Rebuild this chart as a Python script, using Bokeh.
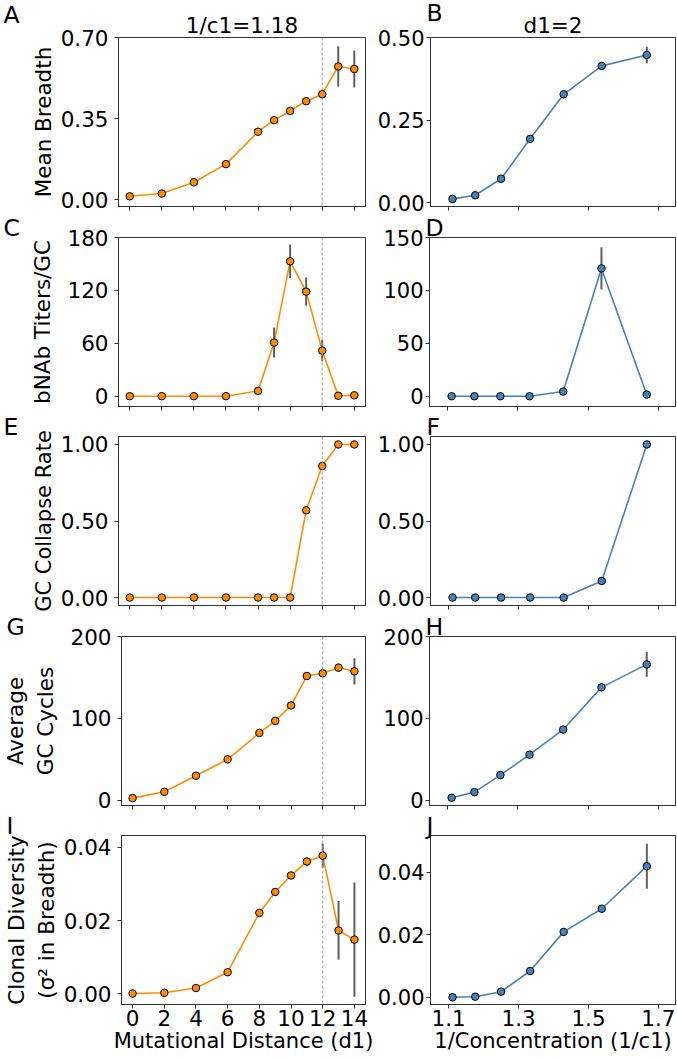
import numpy as np
from bokeh.plotting import figure
from bokeh.models import (FixedTicker, NumeralTickFormatter, Span, Title,
                          ColumnDataSource, Range1d)
from bokeh.layouts import column, row
from bokeh.embed import file_html
from bokeh.resources import INLINE

# ---------------- data ----------------
d1 = [0, 2, 4, 6, 8, 9, 10, 11, 12, 13, 14]
inv_c1 = [1.111, 1.176, 1.25, 1.333, 1.429, 1.538, 1.667]

breadth_d = [0.014, 0.026, 0.075, 0.153, 0.293, 0.343, 0.383, 0.425, 0.455, 0.575, 0.564]
breadth_d_err = [0.002, 0.003, 0.004, 0.005, 0.006, 0.006, 0.007, 0.008, 0.010, 0.087, 0.080]
breadth_c = [0.011, 0.022, 0.072, 0.193, 0.328, 0.414, 0.447]
breadth_c_err = [0.002, 0.003, 0.005, 0.007, 0.008, 0.009, 0.025]

titers_d = [0, 0, 0, 0, 6.0, 60.8, 153.0, 118.6, 51.7, 0.5, 1.0]
titers_d_err = [0, 0, 0, 0, 2, 17, 19, 16, 12, 0.5, 1]
titers_c = [0, 0, 0, 0, 4.4, 120.8, 1.6]
titers_c_err = [0, 0, 0, 0, 1.5, 20, 1.5]

collapse_d = [0, 0, 0, 0, 0, 0, 0, 0.570, 0.859, 1.0, 1.0]
collapse_d_err = [0, 0, 0, 0, 0, 0, 0, 0, 0, 0, 0]
collapse_c = [0, 0, 0, 0, 0, 0.108, 1.0]
collapse_c_err = [0, 0, 0, 0, 0, 0, 0]

cycles_d = [2.9, 10.6, 30.2, 50.2, 82.4, 97.1, 115.9, 151.8, 155.1, 162.0, 157.6]
cycles_d_err = [0.5, 1, 1.5, 2, 2.5, 3, 3.5, 4, 4, 5, 16]
cycles_c = [3.3, 10.2, 31.0, 55.9, 86.5, 138.0, 166.0]
cycles_c_err = [0.5, 1, 1.5, 2, 3, 4, 15]

diversity_d = [0.0001, 0.0003, 0.0016, 0.0059, 0.0221, 0.0278, 0.0323, 0.0361, 0.0377, 0.0173, 0.0148]
diversity_d_err = [0.0001, 0.0002, 0.0003, 0.0005, 0.0008, 0.0009, 0.001, 0.0012, 0.0033, 0.008, 0.0156]
diversity_c = [0.0, 0.0002, 0.0018, 0.0084, 0.0209, 0.0283, 0.0419]
diversity_c_err = [0.0001, 0.0002, 0.0004, 0.0008, 0.001, 0.0012, 0.0072]

d1_ticks = [0, 2, 4, 6, 8, 10, 12, 14]
c1_ticks = [1.1, 1.3, 1.5, 1.7]
breadth_d_ticks = [0, 0.35, 0.70]
breadth_c_ticks = [0, 0.25, 0.50]
titers_d_ticks = [0, 60, 120, 180]
titers_c_ticks = [0, 50, 100, 150]
collapse_ticks = [0, 0.5, 1.0]
cycles_ticks = [0, 100, 200]
diversity_ticks = [0, 0.02, 0.04]

ylabels = ["Mean Breadth", "bNAb Titers/GC", "GC Collapse Rate",
           "Average\nGC Cycles", "Clonal Diversity\n(\u03c3\u00b2 in Breadth)"]
letters_left = ["A", "C", "E", "G", "I"]
letters_right = ["B", "D", "F", "H", "J"]
col_titles = ["1/c1=1.18", "d1=2"]
xlabels = ["Mutational Distance (d1)", "1/Concentration (1/c1)"]
cutoff_d1 = 12

# ---------------- style ----------------
FONT = "DejaVu Sans"
ORANGE = "#ff8c00"
BLUE = "#4682b4"
ERR = "#5f5f5f"
SPINE = "#333333"
TICK_FS = "21.5px"
TICK_FS_R = "21px"
LAB_FS = "21.5px"
YLAB_FS = ["21.5px", "21.5px", "21px", "21.5px", "21.5px"]
XLAB_FS = "21px"
LET_FS = "23.5px"

FW_L, FW_R, FH = 247, 246, 169
BL_L, BL_R = 118, 55
BR_L, BR_R = 9, 1
TOPS = [37, 22, 23, 23, 22]
BOTS = [9, 7, 8, 8, 53]
YLAB_STANDOFF = [2, 9, 2, 9, 2]

left_rows = [
    (breadth_d, breadth_d_err, breadth_d_ticks, (-0.03, 0.70), "0.00"),
    (titers_d, titers_d_err, titers_d_ticks, (-11.7, 180), "0"),
    (collapse_d, collapse_d_err, collapse_ticks, (-0.052, 1.052), "0.00"),
    (cycles_d, cycles_d_err, cycles_ticks, (-6.1, 200), "0"),
    (diversity_d, diversity_d_err, diversity_ticks, (-0.0029, 0.0432), "0.00"),
]
right_rows = [
    (breadth_c, breadth_c_err, breadth_c_ticks, (-0.012, 0.50), "0.00"),
    (titers_c, titers_c_err, titers_c_ticks, (-9.7, 150), "0"),
    (collapse_c, collapse_c_err, collapse_ticks, (-0.052, 1.052), "0.00"),
    (cycles_c, cycles_c_err, cycles_ticks, (-6.1, 200), "0"),
    (diversity_c, diversity_c_err, diversity_ticks, (-0.0023, 0.0517), "0.00"),
]


def make_panel(i, side, xs, ys, errs, yticks, yrange, yfmt):
    left = side == "L"
    bl = BL_L if left else BL_R
    br = BR_L if left else BR_R
    fw = FW_L if left else FW_R
    w = bl + fw + br
    h = TOPS[i] + FH + BOTS[i]
    xr = Range1d(-0.7, 14.7) if left else Range1d(1.048, 1.749)
    p = figure(width=w, height=h, x_range=xr, y_range=Range1d(*yrange),
               output_backend="svg", toolbar_location=None,
               min_border_left=bl, min_border_right=br,
               min_border_top=TOPS[i], min_border_bottom=BOTS[i])
    p.background_fill_color = "white"
    p.border_fill_color = "white"
    p.outline_line_color = SPINE
    p.outline_line_width = 1
    p.grid.visible = False

    for ax in (p.xaxis[0], p.yaxis[0]):
        ax.axis_line_color = SPINE
        ax.major_tick_line_color = SPINE
        ax.major_tick_out = 4
        ax.major_tick_in = 0
        ax.minor_tick_line_color = None
        ax.major_label_text_font = FONT
        ax.major_label_text_font_size = TICK_FS if left else TICK_FS_R
        ax.major_label_text_color = "black"
        ax.axis_label_text_font = FONT
        ax.axis_label_text_font_size = LAB_FS
        ax.axis_label_text_font_style = "normal"
        ax.axis_label_text_color = "black"

    p.yaxis[0].ticker = FixedTicker(ticks=yticks)
    p.yaxis[0].formatter = NumeralTickFormatter(format=yfmt)
    p.yaxis[0].major_label_standoff = 6 if left else 2
    if left:
        p.yaxis[0].axis_label = ylabels[i]
        p.yaxis[0].axis_label_text_font_size = YLAB_FS[i]
        p.yaxis[0].axis_label_standoff = YLAB_STANDOFF[i]

    xt = d1_ticks if left else c1_ticks
    p.xaxis[0].ticker = FixedTicker(ticks=xt)
    p.xaxis[0].formatter = NumeralTickFormatter(format="0" if left else "0.0")
    if i < 4:
        p.xaxis[0].major_label_overrides = {t: "" for t in xt}
        p.xaxis[0].major_label_text_font_size = "0px"
        p.xaxis[0].major_label_standoff = 0
    else:
        p.xaxis[0].major_label_text_font_size = TICK_FS
        p.xaxis[0].major_label_standoff = 1
        p.xaxis[0].axis_label = xlabels[0 if left else 1]
        p.xaxis[0].axis_label_text_font_size = XLAB_FS
        p.xaxis[0].axis_label_standoff = 0

    if left:
        p.add_layout(Span(location=cutoff_d1, dimension="height",
                          line_color="#9a9a9a", line_dash="3 2", line_width=1))

    color = ORANGE if left else BLUE
    lo = [y - e for y, e in zip(ys, errs)]
    hi = [y + e for y, e in zip(ys, errs)]
    src = ColumnDataSource(dict(x=xs, y=ys, lo=lo, hi=hi))
    p.line("x", "y", source=src, line_color=color, line_width=1.6)
    p.segment(x0="x", y0="lo", x1="x", y1="hi", source=src,
              line_color=ERR, line_width=2)
    p.scatter("x", "y", source=src, size=7.5, fill_color=color,
              line_color="black", line_width=1)

    letter = letters_left[i] if left else letters_right[i]
    lx = -115 if left else -4
    if i == 0:
        # column title (closest to frame)
        p.add_layout(Title(text=col_titles[0 if left else 1], align="center",
                           text_font=FONT, text_font_size=LAB_FS,
                           text_font_style="normal", standoff=0,
                           text_color="black"), "above")
        # panel letter stacked above it, pulled down with a negative standoff
        p.add_layout(Title(text=letter, align="left", offset=lx,
                           text_font=FONT, text_font_size=LET_FS,
                           text_font_style="normal",
                           standoff=-37 if left else -33,
                           text_color="black"), "above")
    else:
        p.add_layout(Title(text=letter, align="left", offset=lx,
                           text_font=FONT, text_font_size=LET_FS,
                           text_font_style="normal", standoff=-8,
                           text_color="black"), "above")
    return p


rows = []
for i in range(5):
    pl = make_panel(i, "L", d1, *left_rows[i])
    pr = make_panel(i, "R", inv_c1, *right_rows[i])
    rows.append(row(pl, pr, spacing=0))

layout = column(*rows, spacing=0)
open("out.html", "w").write(file_html(layout, INLINE))
